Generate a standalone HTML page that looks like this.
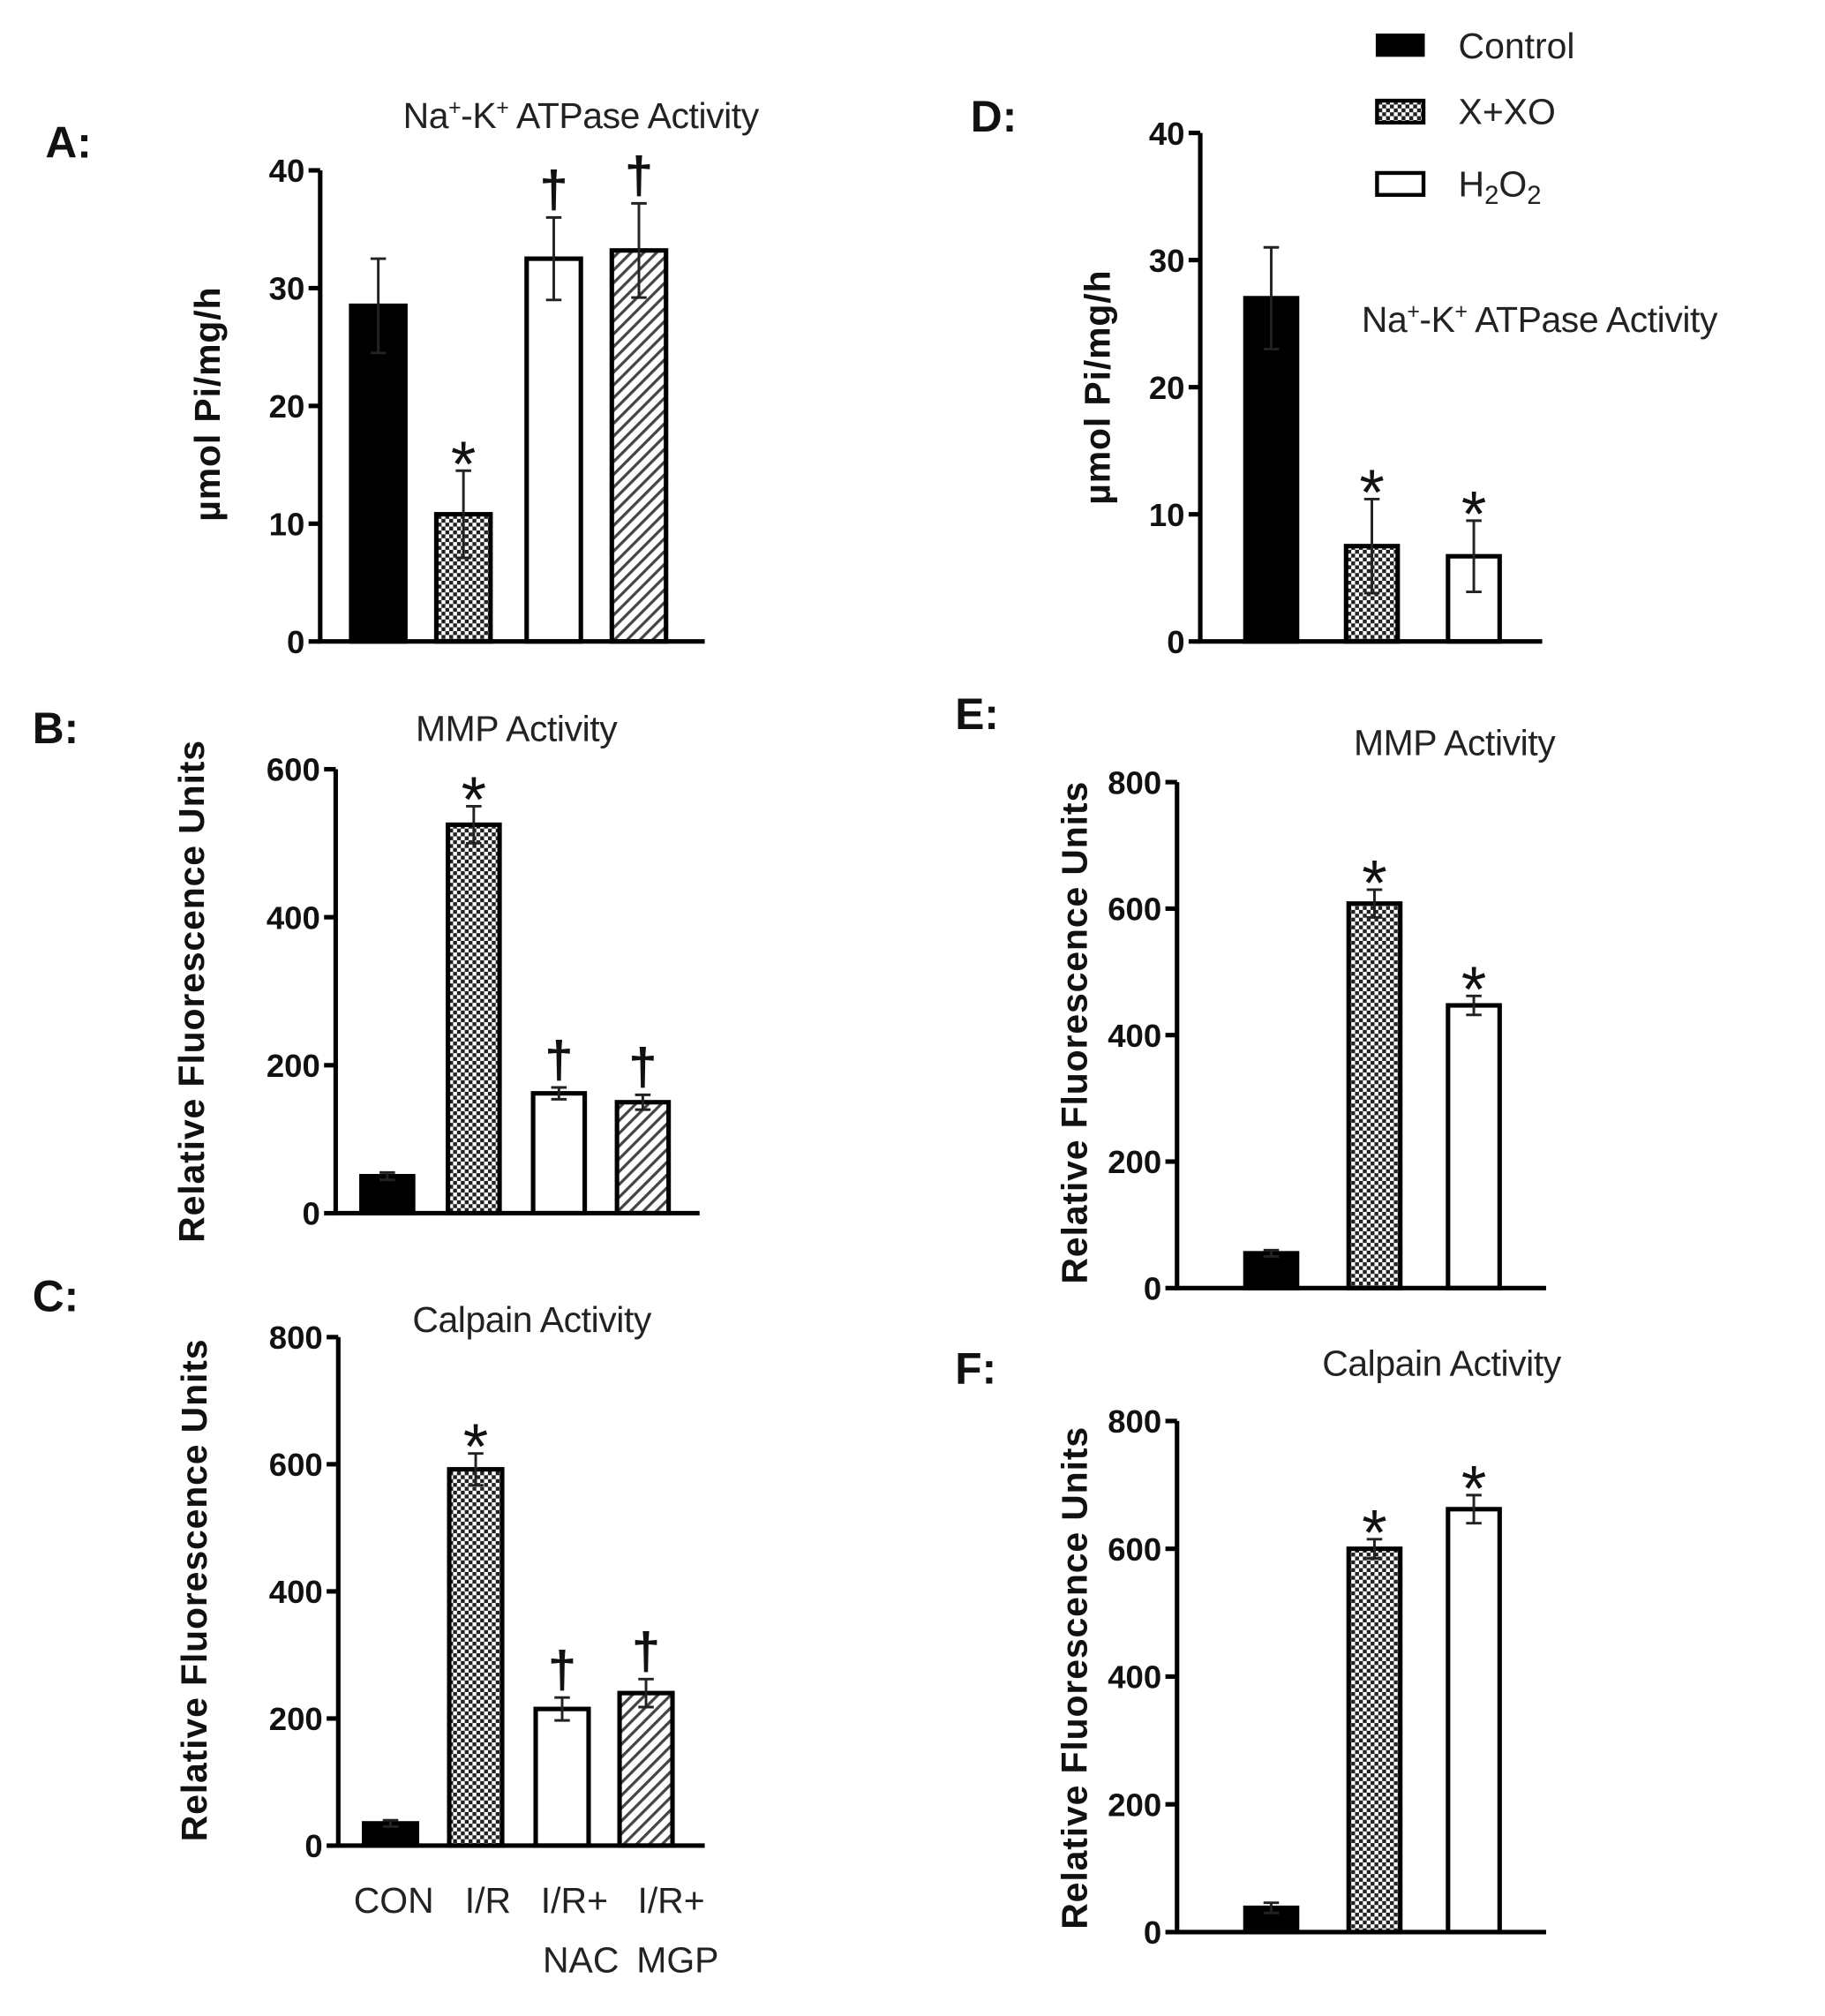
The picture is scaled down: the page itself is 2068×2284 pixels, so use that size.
<!DOCTYPE html>
<html><head><meta charset="utf-8"><style>
html,body{margin:0;padding:0;background:#fff;}
svg{display:block;}
text{font-family:"Liberation Sans",sans-serif;}
</style></head><body>
<svg id="fig" width="2068" height="2284" viewBox="0 0 1414 1562" xmlns="http://www.w3.org/2000/svg">
<defs>
<pattern id="checker" width="6" height="6" patternUnits="userSpaceOnUse">
<rect width="6" height="6" fill="#fff"/><rect width="3" height="3" fill="#222"/><rect x="3" y="3" width="3" height="3" fill="#222"/>
</pattern>
<pattern id="hatch" width="7" height="7" patternUnits="userSpaceOnUse" patternTransform="rotate(45)">
<rect width="7" height="7" fill="#fff"/><rect width="2.2" height="7" fill="#444"/>
</pattern>
</defs>
<g>
<rect x="1066" y="26" width="38" height="18" fill="#000"/>
<text x="1130" y="45" font-size="28" fill="#222">Control</text>
<rect x="1067" y="78" width="36" height="17" fill="url(#checker)" stroke="#000" stroke-width="3"/>
<text x="1130" y="96" font-size="28" fill="#222">X+XO</text>
<rect x="1067" y="134" width="36" height="17" fill="#fff" stroke="#000" stroke-width="3"/>
<text x="1130" y="152" font-size="28" fill="#222">H<tspan font-size="20" dy="6">2</tspan><tspan dy="-6">O</tspan><tspan font-size="20" dy="6">2</tspan></text>
</g>
<g id="charts"></g>
</svg>
<script>
const fillsA = ["#000","url(#checker)","#fff","url(#hatch)"];
const fillsD = ["#000","url(#checker)","#fff"];
const catsLeft = ["CON","I/R","I/R+NAC","I/R+MGP"];
const catsRight = ["Control","X+XO","H2O2"];
const valsA = [28.5,10.8,32.5,33.2];
const errA = [4,3.7,3.5,4];
const markA = ["","*","†","†"];
const valsB = [50,525,162,150];
const errB = [5,25,8,10];
const markB = ["","*","†","†"];
const valsC = [35,592,215,240];
const errC = [5,25,18,22];
const markC = ["","*","†","†"];
const valsD = [27,7.5,6.7];
const errD = [4,3.7,2.8];
const markD = ["","*","*"];
const valsE = [55,608,447];
const errE = [5,22,15];
const markE = ["","*","*"];
const valsF = [38,600,662];
const errF = [8,15,22];
const markF = ["","*","*"];
const ticks40 = [0,10,20,30,40];
const ticks600 = [0,200,400,600];
const ticks800 = [0,200,400,600,800];

const NS="http://www.w3.org/2000/svg";
const root=document.getElementById('charts');
function mk(tag,attrs,parent,txt){const e=document.createElementNS(NS,tag);for(const k in attrs)e.setAttribute(k,attrs[k]);if(txt!==undefined)e.textContent=txt;(parent||root).appendChild(e);return e;}

function chart(cfg){
 const g=mk('g',{});
 
 
 const y=v=>cfg.y0-(v/cfg.max)*(cfg.y0-cfg.yTop);
 cfg.vals.forEach((v,i)=>{
  const bx=cfg.barX[i], bw=cfg.barW;
  const r=mk('rect',{x:bx,y:y(v),width:bw,height:cfg.y0-y(v),fill:cfg.fills[i],stroke:'#000','stroke-width':3.5},g);
  
  
  const cx=bx+bw/2, top=y(v+cfg.err[i]), bot=y(v-cfg.err[i]);
  const eb=mk('path',{d:`M${cx},${bot}V${top}M${cx-6},${top}H${cx+6}M${cx-6},${bot}H${cx+6}`,stroke:'#222','stroke-width':2,fill:'none'},g);
  
  
  if(cfg.marks[i]){
   const star=cfg.marks[i]==='*';
   const m=mk('text',{x:cx,y:top-(star?-12:8),'text-anchor':'middle','font-size':star?50:40,'font-weight':star?'normal':'bold',fill:'#111'},g,cfg.marks[i]);
   
   
  }
 });
 const ax=mk('path',{d:`M${cfg.ax},${cfg.yTop}V${cfg.y0}H${cfg.xEnd}`,stroke:'#000','stroke-width':3.5,fill:'none'},g);
 
 
 cfg.ticks.forEach(t=>{
  mk('line',{x1:cfg.ax-9,x2:cfg.ax,y1:y(t),y2:y(t),stroke:'#000','stroke-width':3.5},g);
  const tl=mk('text',{x:cfg.ax-12,y:y(t)+9,'text-anchor':'end','font-size':25,'font-weight':'bold',fill:'#111'},g,t);
  
  
 });
 const yl=mk('text',{x:0,y:0,transform:`translate(${cfg.ylx},${cfg.yly}) rotate(-90)`,'text-anchor':'middle','font-size':28,'letter-spacing':0.6,'font-weight':'bold',fill:'#111'},g,cfg.ylabel);
 
 
 const ti=mk('text',{x:cfg.tx,y:cfg.ty,'text-anchor':cfg.tanchor||'middle','font-size':28,'letter-spacing':-0.3,fill:'#222'},g);
 
 
 if(cfg.na){
  ti.innerHTML='Na<tspan font-size="17" dy="-10">+</tspan><tspan dy="10">-K</tspan><tspan font-size="17" dy="-10">+</tspan><tspan dy="10"> ATPase Activity</tspan>';
 } else ti.textContent=cfg.title;
 const pl=mk('text',{x:cfg.lx,y:cfg.ly,'font-size':34,'font-weight':'bold',fill:'#111'},g,cfg.letter);
 
 
 return g;
}
chart({name:'panel-a',cats:catsLeft,vals:valsA,err:errA,marks:markA,fills:fillsA,max:40,ticks:ticks40,ax:248,y0:497,yTop:132,xEnd:546,barX:[272,338,408,474],barW:42,ylabel:'µmol Pi/mg/h',ylx:170,yly:313,na:true,tx:450,ty:99,letter:'A:',lx:35,ly:122});
chart({name:'panel-b',cats:catsLeft,vals:valsB,err:errB,marks:markB,fills:fillsA,max:600,ticks:ticks600,ax:260,y0:940,yTop:596,xEnd:542,barX:[280,347,413,478],barW:40,ylabel:'Relative Fluorescence Units',ylx:158,yly:768,title:'MMP Activity',tx:400,ty:574,letter:'B:',lx:25,ly:576});
chart({name:'panel-c',cats:catsLeft,vals:valsC,err:errC,marks:markC,fills:fillsA,max:800,ticks:ticks800,ax:262,y0:1430,yTop:1036,xEnd:546,barX:[282,348,415,480],barW:41,ylabel:'Relative Fluorescence Units',ylx:160,yly:1232,title:'Calpain Activity',tx:412,ty:1032,letter:'C:',lx:25,ly:1016});
chart({name:'panel-d',cats:catsRight,vals:valsD,err:errD,marks:markD,fills:fillsD,max:40,ticks:ticks40,ax:930,y0:497,yTop:103,xEnd:1195,barX:[965,1043,1122],barW:40,ylabel:'µmol Pi/mg/h',ylx:860,yly:300,na:true,tx:1055,ty:257,tanchor:'start',letter:'D:',lx:752,ly:102});
chart({name:'panel-e',cats:catsRight,vals:valsE,err:errE,marks:markE,fills:fillsD,max:800,ticks:ticks800,ax:912,y0:998,yTop:606,xEnd:1198,barX:[965,1045,1122],barW:40,ylabel:'Relative Fluorescence Units',ylx:842,yly:800,title:'MMP Activity',tx:1127,ty:585,letter:'E:',lx:740,ly:565});
chart({name:'panel-f',cats:catsRight,vals:valsF,err:errF,marks:markF,fills:fillsD,max:800,ticks:ticks800,ax:912,y0:1497,yTop:1101,xEnd:1198,barX:[965,1045,1122],barW:40,ylabel:'Relative Fluorescence Units',ylx:842,yly:1300,title:'Calpain Activity',tx:1117,ty:1066,letter:'F:',lx:740,ly:1072});
const xl=[["CON",305,1482],["I/R",378,1482],["I/R+",445,1482],["NAC",450,1528],["I/R+",520,1482],["MGP",525,1528]];
xl.forEach(a=>{const t=mk('text',{x:a[1],y:a[2],'text-anchor':'middle','font-size':28,fill:'#222'},root,a[0]);

});
</script>
</body></html>
